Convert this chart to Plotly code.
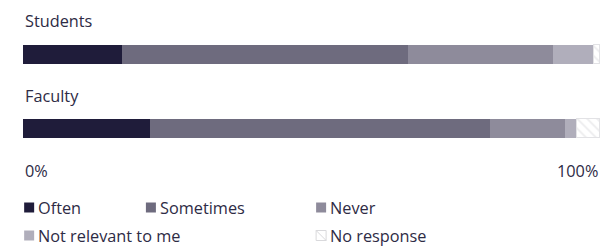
import plotly.graph_objects as go

groups = ["Students", "Faculty"]
series = ["Often", "Sometimes", "Never", "Not relevant to me", "No response"]
students = [17.2, 49.6, 25.1, 7.0, 1.1]
faculty = [22, 59, 13, 2, 4]
colors = ["#1f1c3a", "#6e6b7e", "#8e8b9b", "#b0aebb", "#ffffff"]
tick_vals = [0, 100]
tick_labels = ["0%", "100%"]

values = {g: v for g, v in zip(groups, [students, faculty])}
FONT = "Open Sans"
FS = 16.3
TXT = "#2e2b45"

fig = go.Figure()
for i, s in enumerate(series):
    xs = [values[g][i] for g in groups]
    if s == "No response":
        marker = dict(color="#ffffff",
                      pattern=dict(shape="\\", fgcolor="#d9d9dc", bgcolor="#ffffff",
                                   size=7, solidity=0.25),
                      line=dict(color="#e2e2e5", width=1))
    else:
        marker = dict(color=colors[i], line=dict(width=0))
    fig.add_trace(go.Bar(y=groups, x=xs, name=s, orientation="h",
                         marker=marker, width=0.255, showlegend=False,
                         hoverinfo="x+name"))

# category labels above bars
for g in groups:
    fig.add_annotation(x=0, y=g, xref="x", yref="y", text=g, showarrow=False,
                       xanchor="left", yanchor="middle", yshift=33,
                       font=dict(family=FONT, size=FS, color=TXT))

# tick labels
for v, t in zip(tick_vals, tick_labels):
    fig.add_annotation(x=v, y=1, xref="x", yref="y", text=t, showarrow=False,
                       xanchor="left" if v == 0 else "right", yanchor="middle",
                       yshift=-42, font=dict(family=FONT, size=FS, color=TXT))

# custom legend
leg_x = [0.002, 0.213, 0.508, 0.002, 0.508]
leg_y = [207.5, 207.5, 207.5, 235.5, 235.5]
H = 246
for i, s in enumerate(series):
    cx = leg_x[i]
    cy = 1 - leg_y[i] / H
    sq = 10 / 577
    sqh = 10 / H
    if s == "No response":
        fig.add_shape(type="rect", xref="paper", yref="paper",
                      x0=cx, x1=cx + sq, y0=cy - sqh / 2, y1=cy + sqh / 2,
                      line=dict(color="#d9d9dc", width=1), fillcolor="#ffffff")
        fig.add_shape(type="line", xref="paper", yref="paper",
                      x0=cx, x1=cx + sq, y0=cy + sqh / 2, y1=cy - sqh / 2,
                      line=dict(color="#d9d9dc", width=1))
    else:
        fig.add_shape(type="rect", xref="paper", yref="paper",
                      x0=cx, x1=cx + sq, y0=cy - sqh / 2, y1=cy + sqh / 2,
                      line=dict(width=0), fillcolor=colors[i])
    fig.add_annotation(x=cx + sq, y=cy, xref="paper", yref="paper", text=s,
                       showarrow=False, xanchor="left", yanchor="middle", xshift=2,
                       font=dict(family=FONT, size=FS, color=TXT))

fig.update_layout(
    width=601, height=246, barmode="stack",
    margin=dict(l=23, r=1, t=0, b=0),
    paper_bgcolor="white", plot_bgcolor="white",
    xaxis=dict(range=[0, 100], visible=False, fixedrange=True),
    yaxis=dict(categoryorder="array", categoryarray=groups,
               range=[2.577, -0.725], visible=False, fixedrange=True),
    bargap=0,
)
fig.write_html("out.html", config={"displayModeBar": False},
               post_script="document.body.style.margin='0';document.body.style.overflow='hidden';")
